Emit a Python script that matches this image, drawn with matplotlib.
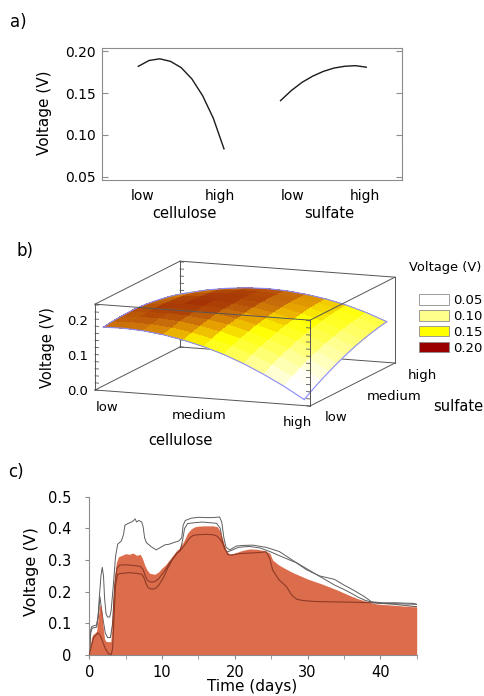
import numpy as np
import matplotlib
matplotlib.use('Agg')
import matplotlib.pyplot as plt
from matplotlib.colors import LinearSegmentedColormap, Normalize
from matplotlib.patches import Patch
from matplotlib import transforms as mtransforms
from mpl_toolkits.mplot3d import proj3d

plt.rcParams['font.family'] = ['DejaVu Sans']

# ---------------- panel a data ----------------
effect_levels = [-1, -0.75, -0.5, -0.25, 0, 0.25, 0.5, 0.75, 1]
cellulose_effect = [0.182, 0.189, 0.191, 0.188, 0.1805, 0.167, 0.147, 0.120, 0.0833]
sulfate_effect = [0.141, 0.153, 0.1628, 0.1703, 0.176, 0.180, 0.1821, 0.1828, 0.181]
a_yticks = [0.05, 0.10, 0.15, 0.20]
a_level_labels = ['low', 'high', 'low', 'high']
a_factor_names = ['cellulose', 'sulfate']

# ---------------- panel b data ----------------
grid_levels = [-1, -0.8, -0.6, -0.4, -0.2, 0, 0.2, 0.4, 0.6, 0.8, 1]
# rows: sulfate level, columns: cellulose level
surface_v = [
    [0.177, 0.178, 0.175, 0.168, 0.157, 0.143, 0.125, 0.103, 0.077, 0.048, 0.015],
    [0.180, 0.182, 0.180, 0.175, 0.165, 0.152, 0.136, 0.115, 0.091, 0.062, 0.031],
    [0.182, 0.185, 0.185, 0.181, 0.172, 0.161, 0.145, 0.126, 0.103, 0.076, 0.045],
    [0.183, 0.187, 0.188, 0.185, 0.178, 0.168, 0.153, 0.135, 0.113, 0.088, 0.058],
    [0.183, 0.188, 0.190, 0.188, 0.183, 0.173, 0.160, 0.143, 0.123, 0.098, 0.070],
    [0.181, 0.188, 0.191, 0.190, 0.186, 0.178, 0.166, 0.150, 0.131, 0.108, 0.081],
    [0.178, 0.186, 0.191, 0.191, 0.188, 0.181, 0.171, 0.156, 0.138, 0.116, 0.091],
    [0.174, 0.184, 0.189, 0.191, 0.189, 0.184, 0.174, 0.161, 0.144, 0.123, 0.099],
    [0.169, 0.180, 0.187, 0.190, 0.189, 0.185, 0.176, 0.165, 0.149, 0.129, 0.106],
    [0.163, 0.174, 0.183, 0.187, 0.188, 0.184, 0.177, 0.167, 0.152, 0.134, 0.112],
    [0.155, 0.168, 0.177, 0.183, 0.185, 0.183, 0.177, 0.168, 0.155, 0.138, 0.117],
]
b_level_names = ['low', 'medium', 'high']
b_level_pos = [-1, 0, 1]
b_zticks = [0.0, 0.1, 0.2]
legend_values = [0.05, 0.10, 0.15, 0.20]
legend_colors = ['#ffffff', '#ffff8c', '#ffff00', '#990000']

# ---------------- panel c data ----------------
t_fill = [0, 0.15, 0.3, 0.5, 0.8, 1.0, 1.2, 1.4, 1.6, 1.75, 1.9, 2.1, 2.3, 2.6, 2.95,
          3.1, 3.3, 3.5, 3.7, 4.0, 4.5, 5.0, 5.5, 6.0, 6.5, 7.0, 7.3, 7.6, 7.9, 8.3,
          9.0, 9.5, 10.0, 10.5, 11.0, 11.5, 12.0, 12.5, 13.0, 13.5, 14, 14.5, 15, 16, 17,
          17.6, 18, 18.4, 18.8, 19.3, 20, 21, 22, 23, 24, 24.8, 25.2, 26, 27, 28,
          29, 30, 31, 32, 33, 34, 35, 36, 37, 38, 39, 40, 42, 44, 45]
v_fill = [0, 0.03, 0.055, 0.065, 0.07, 0.075, 0.11, 0.15, 0.158, 0.13, 0.09, 0.05, 0.043, 0.042, 0.042,
          0.08, 0.18, 0.25, 0.29, 0.31, 0.315, 0.32, 0.318, 0.322, 0.315, 0.318, 0.305, 0.285, 0.27, 0.258,
          0.255, 0.262, 0.275, 0.285, 0.30, 0.315, 0.33, 0.34, 0.36, 0.385, 0.398, 0.405, 0.407, 0.408, 0.408,
          0.405, 0.39, 0.36, 0.33, 0.318, 0.322, 0.33, 0.335, 0.334, 0.33, 0.322, 0.30, 0.285, 0.272, 0.26,
          0.25, 0.24, 0.232, 0.224, 0.215, 0.206, 0.196, 0.186, 0.177, 0.17, 0.163, 0.16, 0.157, 0.153, 0.152]

t_run1 = [0, 0.2, 0.35, 1.0, 1.2, 1.4, 1.6, 1.78, 1.95, 2.1, 2.3, 2.5, 2.8, 3.0, 3.3,
          3.6, 3.9, 4.4, 4.7, 4.9, 5.3, 5.8, 6.1, 6.3, 6.5, 6.8, 7.2, 7.4, 7.6, 7.85,
          8.5, 9.2, 9.8, 10.4, 11.0, 11.7, 12.3, 12.7, 12.9, 13.2, 14, 15, 16, 17, 17.9,
          18.2, 18.5, 18.8, 19.3, 20.2, 21, 22.5, 24.3, 26.1, 27.9, 29.8, 31.6, 33.7, 35, 36.3,
          37.7, 38.8, 40.3, 42, 44.6, 45]
v_run1 = [0, 0.08, 0.09, 0.095, 0.12, 0.19, 0.25, 0.277, 0.25, 0.18, 0.13, 0.12, 0.12, 0.14, 0.22,
          0.31, 0.35, 0.36, 0.38, 0.41, 0.415, 0.42, 0.425, 0.43, 0.42, 0.425, 0.42, 0.405, 0.37, 0.355,
          0.342, 0.332, 0.34, 0.348, 0.35, 0.356, 0.36, 0.37, 0.41, 0.425, 0.432, 0.435, 0.434, 0.434, 0.436,
          0.42, 0.37, 0.34, 0.332, 0.344, 0.346, 0.347, 0.34, 0.327, 0.30, 0.27, 0.25, 0.239, 0.221, 0.205,
          0.186, 0.168, 0.165, 0.165, 0.163, 0.16]

t_run2 = [0, 0.2, 0.4, 1.0, 1.25, 1.47, 1.65, 1.9, 2.2, 2.5, 2.9, 3.2, 3.5, 3.8, 4.2,
          5, 6, 7, 7.4, 7.7, 8, 8.5, 9, 9.5, 10, 10.5, 11, 11.5, 12, 12.5,
          12.8, 13.1, 13.5, 14.5, 15.5, 16.5, 17.5, 18, 18.3, 18.6, 19, 19.5, 20.5, 22, 23.5,
          25, 26.5, 28.6, 30.8, 33.7, 35, 36, 37, 38, 39, 40, 42, 45]
v_run2 = [0, 0.07, 0.085, 0.088, 0.13, 0.184, 0.15, 0.11, 0.07, 0.055, 0.055, 0.1, 0.22, 0.275, 0.284,
          0.285, 0.283, 0.28, 0.27, 0.25, 0.235, 0.23, 0.232, 0.24, 0.255, 0.27, 0.29, 0.305, 0.32, 0.33,
          0.36, 0.40, 0.415, 0.418, 0.42, 0.418, 0.416, 0.40, 0.36, 0.335, 0.326, 0.33, 0.34, 0.343, 0.338,
          0.325, 0.31, 0.29, 0.26, 0.221, 0.207, 0.195, 0.182, 0.172, 0.166, 0.163, 0.162, 0.16]

t_run3 = [0, 0.3, 0.6, 1.0, 1.2, 1.5, 1.8, 2.2, 2.6, 3.0, 3.2, 3.4, 3.6, 3.9, 4.5,
          5.5, 6.5, 7.2, 7.5, 7.8, 8.1, 8.6, 9.1, 9.6, 10.2, 10.8, 11.4, 12.0, 12.6, 13.2,
          13.8, 14.3, 15, 16, 17, 17.6, 18, 18.5, 19, 19.5, 20.5, 22, 23.5, 24.3, 24.8,
          25.2, 26.1, 27.1, 27.8, 28.5, 29.4, 31, 33, 35.8, 39, 42, 44.8, 45]
v_run3 = [0, 0.03, 0.055, 0.065, 0.07, 0.062, 0.045, 0.02, 0.005, 0.0, 0.02, 0.12, 0.22, 0.255, 0.258,
          0.26, 0.258, 0.255, 0.245, 0.225, 0.212, 0.208, 0.21, 0.222, 0.245, 0.275, 0.30, 0.32, 0.333, 0.35,
          0.37, 0.378, 0.38, 0.381, 0.38, 0.375, 0.365, 0.345, 0.318, 0.315, 0.32, 0.322, 0.324, 0.326, 0.305,
          0.268, 0.237, 0.216, 0.19, 0.176, 0.172, 0.169, 0.168, 0.167, 0.165, 0.16, 0.153, 0.153]

c_xticks = [0, 10, 20, 30, 40]
c_yticks = [0, 0.1, 0.2, 0.3, 0.4, 0.5]
c_ytick_labels = ['0', '0.1', '0.2', '0.3', '0.4', '0.5']

# ======================================================================
W, H = 485, 696
fig = plt.figure(figsize=(W / 100, H / 100), dpi=100)
FRAME = '#8c8c8c'


def rect(x0, y0, x1, y1):
    """pixel box (top-left origin) -> figure fraction rect"""
    return [x0 / W, 1 - y1 / H, (x1 - x0) / W, (y1 - y0) / H]


# ---------------- panel a ----------------
axA = fig.add_axes(rect(101.7, 47.7, 401.7, 180.3))
lev = np.array(effect_levels)
sulf_offset = 3.32
axA.plot(lev, cellulose_effect, color='#1a1a1a', lw=1.0)
axA.plot(lev + sulf_offset, sulfate_effect, color='#1a1a1a', lw=1.0)
axA.set_xlim(-1.854, 5.147)
axA.set_ylim(0.0457, 0.2043)
axA.set_yticks(a_yticks)
axA.set_yticklabels([f'{v:.2f}' for v in a_yticks])
axA.tick_params(axis='y', direction='in', left=True, right=True, length=4,
                color=FRAME, labelsize=10, pad=4)
axA.set_xticks([-0.89, 0.907, -0.71 + sulf_offset, 0.976 + sulf_offset])
axA.set_xticklabels(a_level_labels)
axA.tick_params(axis='x', length=0, labelsize=10, pad=6)
for sp in axA.spines.values():
    sp.set_color(FRAME)
    sp.set_linewidth(0.8)
trA = mtransforms.blended_transform_factory(axA.transData, axA.transAxes)
axA.text(0.071, -0.25, a_factor_names[0], transform=trA, ha='center', va='center', fontsize=10.5)
axA.text(3.446, -0.25, a_factor_names[1], transform=trA, ha='center', va='center', fontsize=10.5)
fig.text(45 / W, 1 - 113 / H, 'Voltage (V)', rotation=90, ha='center', va='center', fontsize=11)
fig.text(10 / W, 1 - 22 / H, 'a)', ha='left', va='center', fontsize=12)

# ---------------- panel b ----------------
cmap = LinearSegmentedColormap.from_list(
    'volt', [(0.0, '#ffffff'), (0.25, legend_colors[0]), (0.5, legend_colors[1]),
             (0.75, legend_colors[2]), (0.85, '#e6a000'), (0.9, '#c86e0a'),
             (0.95, '#a83a06'), (1.0, '#8a0000')])
norm = Normalize(0.0, 0.20)

ax3 = fig.add_axes(rect(60, 180, 430, 550), projection='3d', computed_zorder=False)
ax3.patch.set_visible(False)
ax3.set_proj_type('ortho')
ax3.view_init(elev=11.2, azim=-69)
ax3.set_box_aspect((1, 1.03, 0.38))
xmin, xmax, ymin, ymax, zmin, zmax = -1.07, 1.07, -1.03, 1.03, 0.0, 0.242
ax3.set_xlim(xmin, xmax)
ax3.set_ylim(ymin, ymax)
ax3.set_zlim(zmin, zmax)
ax3.set_xticks([])
ax3.set_yticks([])
ax3.set_zticks([])
ax3.set_axis_off()

G = np.array(grid_levels)
Cg, Sg = np.meshgrid(G, G)
Z = np.array(surface_v)
avg = (Z[:-1, :-1] + Z[1:, :-1] + Z[:-1, 1:] + Z[1:, 1:]) / 4
fcol = np.ones(Z.shape + (4,))
fcol[:-1, :-1] = cmap(norm(avg))
surf = ax3.plot_surface(Cg, Sg, Z, facecolors=fcol, rstride=1, cstride=1, shade=False,
                        linewidth=0, antialiased=False, zorder=2)
edge_c = '#8a8aff'
for line in [(Cg[0, :], Sg[0, :], Z[0, :]), (Cg[-1, :], Sg[-1, :], Z[-1, :]),
             (Cg[:, 0], Sg[:, 0], Z[:, 0]), (Cg[:, -1], Sg[:, -1], Z[:, -1])]:
    ax3.plot(*line, color=edge_c, lw=0.8, zorder=3)

BOX = '#555555'
back_edges = [((xmin, xmin), (ymax, ymax), (zmin, zmax)),
              ((xmin, xmax), (ymax, ymax), (zmin, zmin)),
              ((xmax, xmax), (ymax, ymax), (zmin, zmax)),
              ((xmin, xmax), (ymax, ymax), (zmax, zmax))]
front_edges = [((xmin, xmax), (ymin, ymin), (zmin, zmin)),
               ((xmin, xmax), (ymin, ymin), (zmax, zmax)),
               ((xmin, xmin), (ymin, ymin), (zmin, zmax)),
               ((xmax, xmax), (ymin, ymin), (zmin, zmax)),
               ((xmin, xmin), (ymin, ymax), (zmin, zmin)),
               ((xmin, xmin), (ymin, ymax), (zmax, zmax)),
               ((xmax, xmax), (ymin, ymax), (zmin, zmin)),
               ((xmax, xmax), (ymin, ymax), (zmax, zmax))]
for e in back_edges:
    ax3.plot(*e, color=BOX, lw=0.7, zorder=1)
for e in front_edges:
    ax3.plot(*e, color=BOX, lw=0.7, zorder=3)
tick_z = np.arange(0.0, zmax, 0.02)
for zt in tick_z:
    ax3.plot((xmin, xmin + 0.035), (ymin, ymin), (zt, zt), color=BOX, lw=0.6, zorder=3)
    ax3.plot((xmax, xmax - 0.035), (ymin, ymin), (zt, zt), color=BOX, lw=0.6, zorder=3)
    ax3.plot((xmin, xmin + 0.035), (ymax, ymax), (zt, zt), color=BOX, lw=0.6, zorder=1)

cx_ = np.array([xmin, xmax, xmin, xmax, xmin, xmax, xmin, xmax])
cy_ = np.array([ymin, ymin, ymax, ymax, ymin, ymin, ymax, ymax])
cz_ = np.array([zmin, zmin, zmin, zmin, zmax, zmax, zmax, zmax])


def proj_px(ax, xs, ys, zs):
    M = ax.get_proj()
    x2, y2, _ = proj3d.proj_transform(np.asarray(xs, float), np.asarray(ys, float),
                                      np.asarray(zs, float), M)
    return ax.transData.transform(np.column_stack([x2, y2]))


for _ in range(3):
    fig.canvas.draw()
    pts = proj_px(ax3, cx_, cy_, cz_)
    bb = ax3.get_position()
    cxp = (bb.x0 + bb.x1) / 2 * W
    cyp = (bb.y0 + bb.y1) / 2 * H
    size = bb.width * W
    k = 300.0 / (pts[:, 0].max() - pts[:, 0].min())
    p = pts[0]
    tx, ty = 95.0, H - 390.0
    ncx = tx - k * (p[0] - cxp)
    ncy = ty - k * (p[1] - cyp)
    ns = k * size
    ax3.set_position([(ncx - ns / 2) / W, (ncy - ns / 2) / H, ns / W, ns / H])


def off(dx, dy):
    return mtransforms.offset_copy(ax3.transData, fig=fig, x=dx, y=dy, units='dots')


for name, pos, dxc in zip(b_level_names, b_level_pos, [5, -3, -6]):
    ax3.text(pos, ymin, 0, name, ha='center', va='center', fontsize=9.5,
             transform=off(dxc, -17), zorder=5)
    ax3.text(xmax, pos, 0, name, ha='left', va='center', fontsize=9.5,
             transform=off(14, -12), zorder=5)
for zt in b_zticks:
    ax3.text(xmin, ymin, zt, f'{zt:.1f}', ha='right', va='center', fontsize=9.5,
             transform=off(-7, -2), zorder=5)
ax3.text(0, ymin, 0, 'cellulose', ha='center', va='center', fontsize=10.5,
         transform=off(-22, -42), zorder=5)
ax3.text(xmax, 0, 0, 'sulfate', ha='center', va='center', fontsize=10.5,
         transform=off(106, -22), zorder=5)
fig.text(48 / W, 1 - 348 / H, 'Voltage (V)', rotation=90, ha='center', va='center', fontsize=10.5)

handles = [Patch(facecolor=c, edgecolor='#8c8c8c', lw=0.6) for c in legend_colors]
fig.legend(handles, [f'{v:.2f}' for v in legend_values],
           loc='upper left', bbox_to_anchor=(419 / W, 1 - 294 / H), frameon=False,
           handlelength=2.3, handleheight=0.85, handletextpad=0.25, labelspacing=0.22,
           borderaxespad=0, borderpad=0, fontsize=9.5)
fig.text(409 / W, 1 - 268 / H, 'Voltage (V)', ha='left', va='center', fontsize=9.4)
fig.text(17 / W, 1 - 251 / H, 'b)', ha='left', va='center', fontsize=12)

# ---------------- panel c ----------------
axC = fig.add_axes(rect(89.3, 496.7, 416.7, 655))
fill = axC.fill_between(t_fill, v_fill, 0, color='#db6d4c', lw=0, zorder=2)
fill_path = fill.get_paths()[0]
runs = [(t_run1, v_run1), (t_run2, v_run2), (t_run3, v_run3)]
for t, v in runs:
    axC.plot(t, v, color='#5e5e5e', lw=0.7, zorder=1)
    inner, = axC.plot(t, v, color='#8e3b26', lw=0.8, zorder=3)
    inner.set_clip_path(fill_path, axC.transData)
axC.set_xlim(0, 45)
axC.set_ylim(0, 0.5)
axC.set_xticks(c_xticks)
axC.set_xticklabels([str(v) for v in c_xticks])
axC.set_xticks(np.arange(5, 50, 10), minor=True)
axC.set_yticks(c_yticks)
axC.set_yticklabels(c_ytick_labels)
axC.tick_params(axis='both', which='both', direction='out', length=3, color=FRAME,
                labelsize=10.5)
axC.tick_params(axis='y', pad=10)
axC.tick_params(axis='x', pad=4)
for s in ['top', 'right']:
    axC.spines[s].set_visible(False)
for s in ['left', 'bottom']:
    axC.spines[s].set_color(FRAME)
    axC.spines[s].set_linewidth(0.8)
fig.text(32 / W, 1 - 572 / H, 'Voltage (V)', rotation=90, ha='center', va='center', fontsize=11.5)
fig.text(251.7 / W, 1 - 686 / H, 'Time (days)', ha='center', va='center', fontsize=11)
fig.text(8 / W, 1 - 472 / H, 'c)', ha='left', va='center', fontsize=12)

fig.savefig('out.png', dpi=100)
